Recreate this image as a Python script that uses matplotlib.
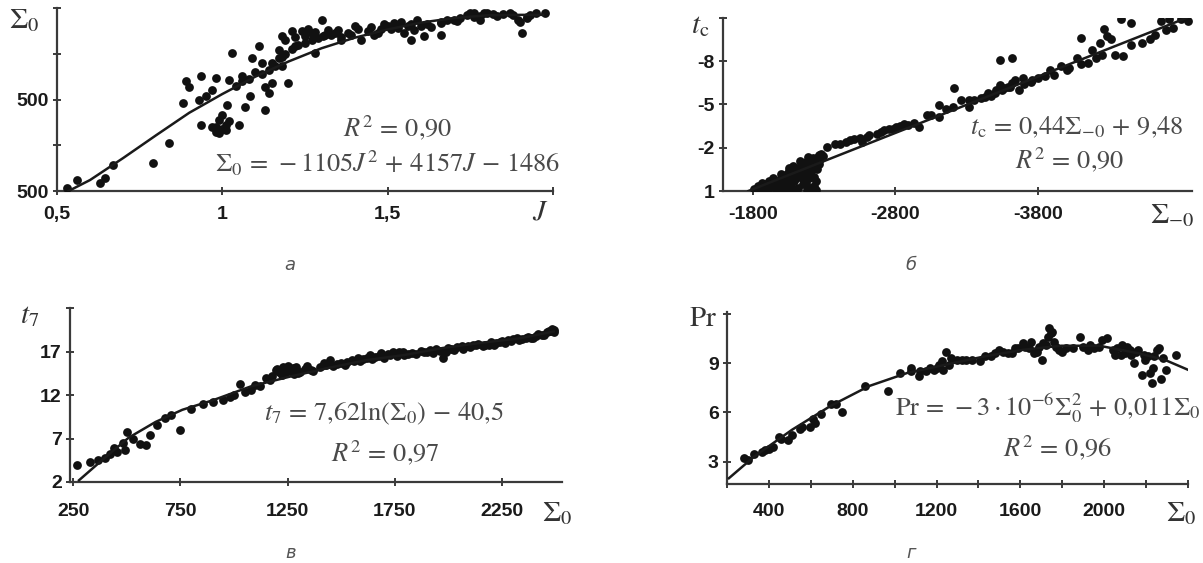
import numpy as np
import matplotlib
matplotlib.use('Agg')
import matplotlib.pyplot as plt

plt.rcParams['mathtext.fontset'] = 'stix'
plt.rcParams['font.family'] = ['Liberation Sans', 'DejaVu Sans']

W, H = 1203, 563

# --- panel a: Sigma_0 vs J ---
a_J = [0.53, 0.56, 0.63, 0.645, 0.67, 0.79, 0.84, 0.88, 0.89, 0.90, 0.935, 0.935,
       0.98, 0.98, 0.99, 0.99, 1.00, 1.01, 1.015, 1.02, 1.03, 1.05, 1.06, 1.07,
       1.085, 1.09, 1.11, 1.12, 1.13, 1.13, 1.14, 1.15, 1.17, 1.18, 1.18, 1.20,
       1.21, 1.22, 1.25, 1.27, 1.28, 1.30, 1.305, 1.32, 1.34, 1.36, 1.40, 1.42,
       1.47, 1.50, 1.52, 1.55, 1.57, 1.59, 1.61, 1.66, 1.66, 1.70, 1.76, 1.78,
       1.80, 1.895, 1.905, 1.92, 1.975, 0.97, 0.98, 1.00, 1.01, 1.02, 1.15, 1.17,
       1.19, 1.21, 1.23, 1.25, 1.27, 1.29, 1.33, 1.36, 1.38, 1.44, 1.46, 1.48,
       1.53, 1.56, 1.58, 1.62, 1.66, 1.72, 1.74, 1.76, 1.78, 1.82, 1.85, 1.88,
       1.92, 1.95, 1.12, 1.14, 1.16, 1.18, 1.19, 1.22, 1.24, 1.26, 1.28, 1.31,
       1.35, 1.39, 1.41, 1.45, 1.49, 1.51, 1.54, 1.57, 1.60, 1.63, 1.68, 1.71,
       1.75, 1.79, 1.83, 1.87, 1.90, 1.93, 0.93, 0.95, 0.97, 1.04, 1.06, 1.08, 1.10]
a_S = [529, 620, 584, 639, 785, 803, 1029, 1460, 1697, 1642, 1752, 1223,
       1734, 1204, 1131, 1277, 1332, 1168, 1442, 1715, 2007, 1223, 1752, 1423,
       1533, 1953, 2080, 1898, 1387, 1642, 1569, 1679, 2044, 1861, 2190, 1679,
       2245, 2080, 2190, 2226, 2007, 2372, 2190, 2263, 2226, 2153, 2299, 2153,
       2226, 2299, 2336, 2226, 2153, 2372, 2190, 2336, 2208, 2372, 2445, 2372,
       2445, 2372, 2226, 2390, 2445, 1200, 1150, 1180, 1220, 1260, 1900, 1950,
       2000, 2050, 2100, 2120, 2150, 2170, 2200, 2180, 2230, 2250, 2200, 2270,
       2280, 2300, 2260, 2330, 2350, 2390, 2420, 2400, 2410, 2430, 2430, 2420,
       2400, 2440, 1780, 1820, 1870, 1960, 2150, 2180, 2250, 2270, 2240, 2200,
       2260, 2210, 2270, 2290, 2330, 2270, 2350, 2320, 2300, 2290, 2370, 2360,
       2440, 2440, 2410, 2440, 2350, 2420, 1500, 1540, 1600, 1650, 1700, 1720, 1800]
a_fit_J = [0.535, 0.6, 0.7, 0.8, 0.9, 1.0, 1.1, 1.2, 1.3, 1.4, 1.5, 1.6, 1.7, 1.8, 1.9, 1.97]
a_fit_S = [500, 620, 860, 1110, 1355, 1560, 1750, 1915, 2060, 2175, 2265, 2340, 2390, 2420, 2425, 2425]

# --- panel b: t_c vs Sigma_-0 ---
b_S = [-1808, -1835, -1862, -1889, -1916, -1943, -1956, -1983, -1997, -2024, -2051, -2064,
       -2078, -2091, -2105, -2118, -2131, -2145, -2158, -2172, -2185, -2199, -2212, -2226,
       -2239, -2253, -2266, -2226, -2199, -2010, -1916, -2051, -2078, -2131, -2185,
       -2320, -2414, -2509, -2563, -2670, -2751, -2859, -2886, -2967, -3102, -3102, -3209,
       -3317, -3317, -3425, -3506, -3533, -3533, -3614, -3587, -3641, -3668, -3695, -3802,
       -3883, -3964, -4072, -4099, -4153, -4180, -4234, -4261, -4287, -4314, -4382, -4395,
       -4449, -4530, -4665, -4719, -4800, -2374, -2617, -2805, -3021, -3156, -3263, -3452,
       -3560, -3749, -3910, -4018, -4207, -4341, -4584, -4746,
       -1850, -1870, -1900, -1930, -1960, -1990, -2000, -2030, -2040, -2060, -2080, -2100,
       -2110, -2120, -2140, -2150, -2160, -2170, -2190, -2200, -2210, -2220, -2230, -2240,
       -2250, -2260, -2270, -2280, -2290, -2240, -2180, -2100, -2050, -1980, -1870,
       -2450, -2480, -2550, -2600, -2700, -2720, -2780, -2830, -2930, -3050, -3200, -3350,
       -3400, -3470, -3500, -3550, -3600, -3620, -3700, -3760, -3850, -4000, -4100, -4250,
       -4450, -4620, -4700, -4850]
b_t = [0.88, 0.65, 0.42, 0.53, 0.30, 0.07, 0.77, 0.42, -0.17, 0.18, -0.40, 0.53,
       -0.05, 0.30, -0.63, 0.77, -0.28, 0.07, -0.87, 0.42, -0.52, -0.17, -1.10, -0.63,
       0.30, -1.34, -0.87, 0.65, 0.77, 0.77, 0.77, -0.63, -0.75, -1.10, -1.34,
       -2.04, -2.27, -2.62, -2.39, -2.97, -3.32, -3.67, -3.55, -3.44, -4.95, -4.14, -6.12,
       -5.30, -4.84, -5.54, -6.00, -8.11, -6.36, -8.22, -6.24, -6.71, -6.00, -6.82, -6.82,
       -7.41, -7.64, -8.22, -9.62, -7.87, -8.81, -9.27, -10.21, -9.74, -9.51, -10.91, -8.34,
       -10.68, -9.27, -10.79, -10.91, -10.95, -2.27, -2.85, -3.44, -4.25, -4.72, -5.30, -5.77,
       -6.12, -6.59, -7.06, -7.52, -8.22, -8.46, -9.51, -10.32,
       0.9, 0.7, 0.85, 0.6, 0.3, 0.6, 0.1, 0.5, -0.2, 0.2, -0.5, 0.1,
       -0.1, -0.5, -0.7, 0.5, -0.3, -1.0, 0.1, -0.9, -0.4, -1.3, 0.0, -1.0,
       -0.5, -1.5, -1.2, -1.6, -1.4, 0.9, 0.9, 0.9, 0.9, 0.9, 0.95,
       -2.4, -2.55, -2.7, -2.75, -3.1, -3.2, -3.3, -3.5, -3.75, -4.3, -4.8, -5.3,
       -5.45, -5.6, -5.8, -6.0, -6.2, -6.5, -6.4, -6.7, -7.0, -7.4, -7.8, -8.4,
       -9.1, -9.8, -10.2, -10.8]
b_fit_S = [-1768, -4840]
b_fit_t = [1.0, -11.0]

# --- panel c: t_7 vs Sigma_0 ---
c_S = [268, 366, 455, 491, 500, 527, 562, 589, 607, 705, 750, 857, 982, 1027, 1098,
       1170, 1196, 1241, 1277, 1339, 1420, 1446, 1527, 1580, 1634, 1688, 1741, 1795,
       1902, 1973, 2027, 2063, 2116, 2170, 2223, 2277, 2330, 2384, 2438, 2491,
       1300, 1360, 1480, 1550, 1600, 1660, 1720, 1770, 1830, 1870, 1940, 2000, 2090,
       2140, 2200, 2250, 2300, 2360, 2410, 2460, 2480,
       1150, 1175, 1210, 1225, 1260, 1280, 1310, 1330, 1370, 1400, 1430, 1460, 1500,
       1520, 1560, 1590, 1620, 1645, 1675, 1700, 1730, 1760, 1790, 1810, 1850, 1885,
       1915, 1930, 1960, 1990, 2010, 2040, 2070, 2100, 2130, 2160, 2190, 2215, 2240,
       2265, 2290, 2320, 2345, 2370, 2395, 2420, 2445, 2470, 2485, 2495,
       330, 400, 420, 440, 480, 640, 680, 800, 900, 950, 1050, 1080, 1120, 1000,
       1200, 1230, 1250, 1290]
c_t = [3.9, 4.5, 5.5, 5.7, 7.8, 7.0, 6.4, 6.2, 7.4, 9.7, 8.0, 11.0, 11.8, 13.3, 13.2,
       13.7, 14.9, 14.7, 15.1, 15.3, 15.7, 16.0, 15.8, 16.2, 16.6, 16.8, 17.0, 16.6,
       17.0, 16.2, 17.2, 17.6, 17.8, 17.8, 18.0, 18.3, 18.3, 18.5, 18.9, 19.5,
       14.5, 14.9, 15.6, 16.0, 16.1, 16.4, 16.7, 16.9, 16.8, 17.1, 17.3, 17.4, 17.6,
       17.9, 18.1, 18.2, 18.4, 18.6, 18.8, 19.2, 19.4,
       13.9, 14.2, 14.6, 14.3, 14.8, 14.4, 14.7, 15.0, 14.8, 15.2, 15.5, 15.3, 15.7,
       15.5, 15.9, 15.9, 16.3, 16.1, 16.5, 16.3, 16.6, 16.5, 16.9, 16.7, 16.7, 16.9,
       17.2, 16.8, 17.1, 17.0, 17.3, 17.5, 17.3, 17.5, 17.7, 17.6, 17.8, 17.7, 18.1,
       18.0, 18.2, 18.5, 18.4, 18.7, 18.6, 19.0, 18.9, 19.3, 19.6, 19.2,
       4.3, 4.8, 5.2, 5.9, 6.5, 8.5, 9.3, 10.4, 11.2, 11.4, 12.3, 12.6, 13.0, 12.0,
       15.0, 15.2, 15.3, 15.2]
c_fit_S = [277, 384, 509, 634, 759, 902, 1080, 1259, 1438, 1616, 1795, 1973, 2152, 2330, 2491]
c_fit_t = [2.2, 4.5, 7.1, 8.9, 10.3, 11.4, 13.0, 14.1, 15.1, 16.0, 16.6, 17.4, 18.0, 18.5, 19.3]

# --- panel d: Pr vs Sigma_0 ---
d_S = [282, 328, 365, 401, 447, 493, 548, 594, 621, 695, 750, 860, 969, 1024, 1079,
       1116, 1189, 1226, 1244, 1299, 1409, 1519, 1574, 1611, 1666, 1702, 1739, 1748,
       1785, 1886, 1922, 1977, 2014, 2050, 2087, 2124, 2142, 2179, 2197, 2233, 2261,
       2270, 2297, 2343, 1150, 1200, 1260, 1340, 1460, 1540, 1640, 1690, 1720, 1760,
       1820, 1900, 1950, 2040, 2100, 2150, 2210,
       300, 380, 420, 460, 510, 560, 610, 650, 720, 1080, 1120, 1170, 1210, 1230,
       1270, 1320, 1370, 1430, 1480, 1500, 1560, 1590, 1620, 1650, 1680, 1710, 1730,
       1750, 1770, 1800, 1850, 1930, 1990, 2060, 2080, 2110, 2130, 2160, 2190, 2220,
       2240, 2250, 2280, 2230]
d_Pr = [3.2, 3.5, 3.6, 3.8, 4.5, 4.3, 5.0, 5.1, 5.35, 6.5, 6.0, 7.6, 7.3, 8.4, 8.7,
        8.2, 8.6, 9.1, 9.7, 9.2, 9.1, 9.7, 9.9, 10.2, 9.6, 9.2, 11.1, 10.8,
        9.8, 10.6, 9.8, 10.0, 10.5, 9.5, 10.1, 9.8, 9.0, 8.3, 9.2, 8.7, 9.9,
        8.0, 8.6, 9.5, 8.5, 8.7, 8.9, 9.2, 9.4, 9.6, 9.9, 10.0, 10.1, 10.3,
        9.9, 10.0, 9.9, 9.8, 9.6, 9.7, 9.4,
        3.1, 3.7, 3.9, 4.4, 4.6, 5.1, 5.6, 5.9, 6.5, 8.5, 8.5, 8.7, 8.9, 8.6,
        9.3, 9.2, 9.2, 9.4, 9.6, 9.8, 9.6, 9.9, 10.0, 10.3, 9.7, 10.2, 10.6,
        10.9, 10.0, 9.7, 9.9, 10.1, 10.4, 9.9, 9.5, 10.0, 9.5, 9.8, 9.5, 8.4,
        9.4, 9.8, 9.3, 7.8]
d_fit_S = [209, 328, 511, 695, 878, 1061, 1244, 1428, 1611, 1794, 1977, 2160, 2288, 2398]
d_fit_Pr = [2.0, 3.3, 4.95, 6.4, 7.6, 8.4, 8.9, 9.4, 9.8, 10.05, 10.05, 9.6, 9.2, 8.6]

fig = plt.figure(figsize=(W / 100, H / 100), dpi=100)
fig.patch.set_facecolor('white')


def box(l, t, r, b):
    return [l / W, 1 - b / H, (r - l) / W, (b - t) / H]


def ftext(x, y, s, **kw):
    fig.text(x / W, 1 - y / H, s, ha='center', va='center', **kw)


def style(ax, xpad):
    for s in ['top', 'right']:
        ax.spines[s].set_visible(False)
    for s in ['left', 'bottom']:
        ax.spines[s].set_color('#3a3a3a')
        ax.spines[s].set_linewidth(1.6)
    ax.tick_params(axis='both', direction='inout', length=6, width=1.4, color='#3a3a3a',
                   labelsize=14, labelcolor='#1a1a1a')
    ax.tick_params(axis='x', pad=xpad)
    ax.tick_params(axis='y', pad=3)
    for lab in ax.get_xticklabels() + ax.get_yticklabels():
        lab.set_fontweight('bold')


pt = dict(s=40, c='#111111', marker='o', linewidths=0, zorder=3)
ln = dict(color='#1a1a1a', lw=1.8, zorder=4)
eq = dict(fontsize=19, color='#4a4a4a')

# a
ax = fig.add_axes(box(57, 8, 553, 191))
ax.scatter(a_J, a_S, **pt)
ax.plot(a_fit_J, a_fit_S, **ln)
ax.set_xlim(0.5, 2.0)
ax.set_ylim(500, 2500)
ax.set_xticks([0.5, 1, 1.5, 2])
ax.set_xticklabels(['0,5', '1', '1,5', ''])
ax.set_yticks([500, 1000, 1500, 2000, 2500])
ax.set_yticklabels(['500', '', '500', '', ''])
style(ax, 8)

# b
ax = fig.add_axes(box(723, 18, 1192, 191))
ax.scatter(b_S, b_t, **pt)
ax.plot(b_fit_S, b_fit_t, **ln)
ax.set_xlim(-1590, -4880)
ax.set_ylim(1, -11)
ax.set_xticks([-1800, -2800, -3800])
ax.set_xticklabels(['-1800', '-2800', '-3800'])
ax.set_yticks([1, -2, -5, -8, -11])
ax.set_yticklabels(['1', '-2', '-5', '-8', ''])
style(ax, 8)

# c
ax = fig.add_axes(box(70, 308, 562, 482))
ax.scatter(c_S, c_t, **pt)
ax.plot(c_fit_S, c_fit_t, **ln)
ax.set_xlim(235, 2530)
ax.set_ylim(2, 22)
ax.set_xticks([250, 750, 1250, 1750, 2250])
ax.set_yticks([2, 7, 12, 17, 22])
ax.set_yticklabels(['2', '7', '12', '17', ''])
style(ax, 12)

# d
ax = fig.add_axes(box(727, 312, 1188, 484))
ax.scatter(d_S, d_Pr, **pt)
ax.plot(d_fit_S, d_fit_Pr, **ln)
ax.set_xlim(200, 2400)
ax.set_ylim(1.65, 12.1)
ax.set_xticks(np.arange(200, 2401, 200))
ax.set_xticklabels(['', '400', '', '800', '', '1200', '', '1600', '', '2000', '', ''])
ax.set_yticks([3, 6, 9, 12])
ax.set_yticklabels(['3', '6', '9', ''])
style(ax, 11)

# axis names
nm = dict(fontsize=21, color='#333333')
ftext(24, 20, r'$\Sigma_0$', **nm)
ftext(540, 212, r'$J$', **nm)
ftext(700, 25, r'$t_\mathrm{c}$', **nm)
ftext(1172, 215, r'$\Sigma_{-0}$', **nm)
ftext(30, 315, r'$t_7$', **nm)
ftext(557, 513, r'$\Sigma_0$', **nm)
ftext(703, 318, r'$\mathrm{Pr}$', **nm)
ftext(1181, 513, r'$\Sigma_0$', **nm)

# equations
ftext(398, 128, r'$R^2\,=\,0{,}90$', **eq)
ftext(388, 163, r'$\Sigma_0\,=\,-1105J^2\,+\,4157J\,-\,1486$', **eq)
ftext(1077, 127, r'$t_\mathrm{c}\,=\,0{,}44\Sigma_{-0}\,+\,9{,}48$', **eq)
ftext(1070, 160, r'$R^2\,=\,0{,}90$', **eq)
ftext(384, 413, r'$t_7\,=\,7{,}62\mathrm{ln}(\Sigma_0)\,-\,40{,}5$', **eq)
ftext(385, 453, r'$R^2\,=\,0{,}97$', **eq)
ftext(1048, 408, r'$\mathrm{Pr}\,=\,-3\cdot10^{-6}\Sigma_0^2\,+\,0{,}011\Sigma_0$', **eq)
ftext(1058, 448, r'$R^2\,=\,0{,}96$', **eq)

# captions
cap = dict(fontsize=13, color='#555555', family='DejaVu Sans', style='italic')
ftext(290, 265, 'а', **cap)
ftext(911, 265, 'б', **cap)
ftext(291, 553, 'в', **cap)
ftext(911, 553, 'г', **cap)

fig.savefig('out.png', dpi=100, facecolor='white')
